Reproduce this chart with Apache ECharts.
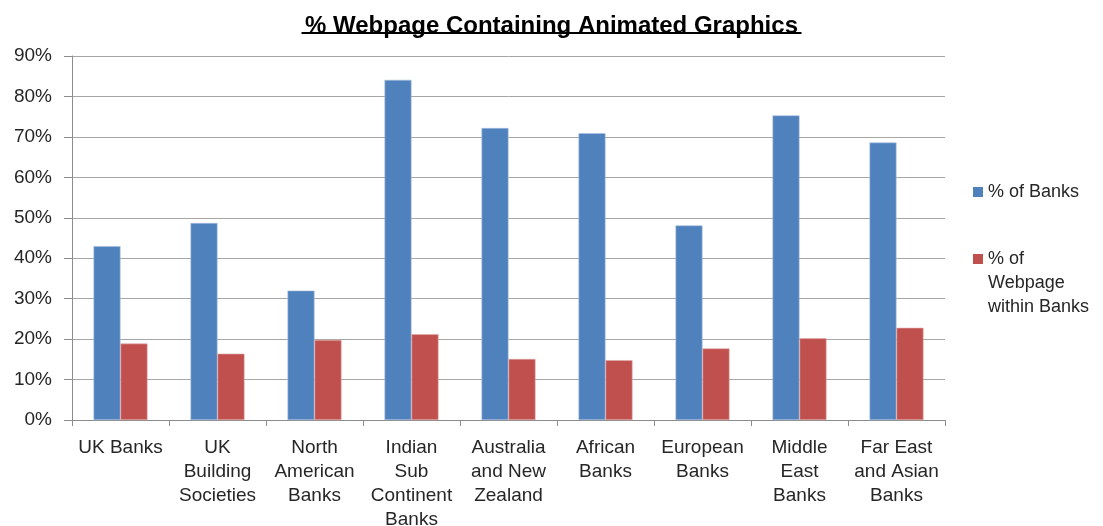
<!DOCTYPE html>
<html>
<head>
<meta charset="utf-8">
<script src="https://cdn.jsdelivr.net/npm/echarts@6/dist/echarts.min.js"></script>
<style>
html,body{margin:0;padding:0;background:#fff;}
#chart{width:1103px;height:526px;}
</style>
</head>
<body>
<div id="chart"></div>
<script>
var chartTitle = '% Webpage Containing Animated Graphics';
var categories = [
  'UK Banks',
  'UK\nBuilding\nSocieties',
  'North\nAmerican\nBanks',
  'Indian\nSub\nContinent\nBanks',
  'Australia\nand New\nZealand',
  'African\nBanks',
  'European\nBanks',
  'Middle\nEast\nBanks',
  'Far East\nand Asian\nBanks'
];
var seriesNames = ['% of Banks', '% of Webpage within Banks'];
var pctBanks = [43.0, 48.7, 32.0, 84.1, 72.2, 70.9, 48.1, 75.3, 68.6];
var pctWebpage = [18.9, 16.4, 19.8, 21.2, 15.1, 14.8, 17.7, 20.2, 22.8];
var yTicks = { min: 0, max: 90, interval: 10 };

var FONT = '"Liberation Sans", Arial, sans-serif';
var chart = echarts.init(document.getElementById('chart'));
chart.setOption({
  animation: false,
  backgroundColor: '#ffffff',
  title: {
    text: chartTitle,
    left: 'center',
    top: 9,
    textStyle: { fontFamily: FONT, fontSize: 24, fontWeight: 'bold', color: '#000' }
  },
  graphic: [{
    type: 'rect',
    left: 'center',
    top: 32,
    shape: { width: 500, height: 2 },
    style: { fill: '#000' }
  }],
  grid: { left: 72, right: 158, top: 56, bottom: 106, containLabel: false, outerBoundsMode: 'none' },
  legend: [{
    orient: 'vertical',
    left: 968,
    top: 175,
    itemWidth: 10,
    itemHeight: 10,
    icon: 'rect',
    itemStyle: { borderWidth: 0 },
    data: [seriesNames[0]],
    textStyle: { fontFamily: FONT, fontSize: 18, color: '#262626', lineHeight: 24 }
  }, {
    orient: 'vertical',
    left: 968,
    top: 194,
    itemWidth: 10,
    itemHeight: 10,
    icon: 'rect',
    itemStyle: { borderWidth: 0 },
    data: [seriesNames[1]],
    formatter: function (n) { return n.replace('% of Webpage within Banks', ' \n \n% of\nWebpage\nwithin Banks'); },
    textStyle: { fontFamily: FONT, fontSize: 18, color: '#262626', lineHeight: 24 }
  }],
  xAxis: {
    type: 'category',
    data: categories,
    axisLine: { lineStyle: { color: '#8c8c8c', width: 1 } },
    axisTick: { show: true, length: 6, alignWithLabel: false, lineStyle: { color: '#8c8c8c' } },
    axisLabel: { interval: 0, margin: 16, fontFamily: FONT, fontSize: 19, color: '#262626', lineHeight: 24 },
    splitLine: { show: false }
  },
  yAxis: {
    type: 'value',
    min: yTicks.min,
    max: yTicks.max,
    interval: yTicks.interval,
    axisLine: { show: true, lineStyle: { color: '#8c8c8c', width: 1 } },
    axisTick: { show: true, length: 8, lineStyle: { color: '#8c8c8c' } },
    axisLabel: { margin: 20, fontFamily: FONT, fontSize: 19, color: '#262626', formatter: '{value}%' },
    splitLine: { show: true, lineStyle: { color: '#a6a6a6', width: 1 } }
  },
  series: [{
    name: seriesNames[0],
    type: 'bar',
    data: pctBanks,
    barWidth: 27,
    barGap: '0%',
    itemStyle: { color: '#4F81BD', borderColor: '#a9c0e0', borderWidth: 0.6 }
  }, {
    name: seriesNames[1],
    type: 'bar',
    data: pctWebpage,
    barWidth: 27,
    barGap: '0%',
    itemStyle: { color: '#C0504D', borderColor: '#e0a9a8', borderWidth: 0.6 }
  }]
});
</script>
</body>
</html>
